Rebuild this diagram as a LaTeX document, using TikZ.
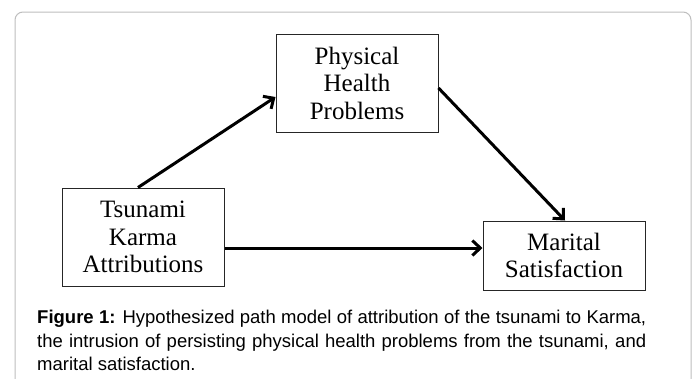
\documentclass[tikz,border=0pt]{standalone}
\usepackage{fontspec}
\setmainfont{Liberation Serif}
\newfontfamily\capfont{Liberation Sans}
\usetikzlibrary{arrows.meta}
\definecolor{framegray}{RGB}{190,190,190}
\begin{document}
\begin{tikzpicture}[x=1pt,y=-1pt,
  varbox/.style={draw=black!85, line width=1pt, minimum width=162pt, align=center, inner sep=0pt,
     font=\fontsize{25}{27.5}\selectfont},
  path arrow/.style={line width=3pt, -{Straight Barb[length=8pt,width=15pt,line width=3pt]}}]
\useasboundingbox (0,0) rectangle (697,378);
\fill[white] (0,0) rectangle (697,378);
\draw[framegray, line width=1pt, rounded corners=8pt] (15,400) -- (15,12) -- (691,12) -- (691,400);

\node[varbox, minimum height=98pt] (phy) at (357,83) {Physical\\Health\\Problems};
\node[varbox, minimum height=98pt] (tsu) at (143,237) {Tsunami\\Karma\\Attributions};
\node[varbox, minimum height=69pt] (mar) at (564,255.5) {Marital\\Satisfaction};

\draw[path arrow] ([xshift=-5pt]tsu.north) -- ([yshift=-14pt]phy.west);
\draw[path arrow] ([yshift=-5pt]phy.east) -- ([xshift=1pt]mar.north);
\draw[path arrow] ([yshift=-11pt]tsu.east) -- ([yshift=7.5pt]mar.west);

\node[anchor=north west, inner sep=0pt, text width=609pt, align=justify,
  font=\capfont\fontsize{18.5}{23.5}\selectfont] (cap) at (37,310)
  {\hyphenpenalty=10000\textbf{Figure 1:} Hypothesized path model of attribution of the tsunami to Karma,\linebreak the intrusion of persisting physical health problems from the tsunami, and\linebreak marital satisfaction.};
\end{tikzpicture}
\end{document}
